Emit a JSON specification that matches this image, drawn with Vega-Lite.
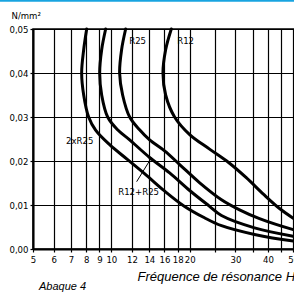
{
  "$schema": "https://vega.github.io/schema/vega-lite/v6.json",
  "width": 271,
  "height": 220,
  "autosize": {"type": "none"},
  "padding": {"left": 33, "top": 29, "right": 0, "bottom": 46},
  "background": "white",
  "config": {
    "view": {"stroke": "black", "strokeWidth": 1.5},
    "font": "Liberation Sans Narrow, DejaVu Sans Condensed, Liberation Sans, sans-serif"
  },
  "datasets": {
    "curves": [
      {"c": "2xR25", "i": 1, "x": 8.04, "y": 0.050},
      {"c": "2xR25", "i": 2, "x": 7.83, "y": 0.0453},
      {"c": "2xR25", "i": 3, "x": 7.69, "y": 0.040},
      {"c": "2xR25", "i": 4, "x": 7.83, "y": 0.035},
      {"c": "2xR25", "i": 5, "x": 8.18, "y": 0.030},
      {"c": "2xR25", "i": 6, "x": 8.70, "y": 0.027},
      {"c": "2xR25", "i": 7, "x": 9.85, "y": 0.0237},
      {"c": "2xR25", "i": 8, "x": 11.55, "y": 0.0203},
      {"c": "2xR25", "i": 9, "x": 13.55, "y": 0.0169},
      {"c": "2xR25", "i": 10, "x": 16.0, "y": 0.0132},
      {"c": "2xR25", "i": 11, "x": 19.0, "y": 0.0098},
      {"c": "2xR25", "i": 12, "x": 22.8, "y": 0.0071},
      {"c": "2xR25", "i": 13, "x": 26.5, "y": 0.0053},
      {"c": "2xR25", "i": 14, "x": 35.5, "y": 0.0033},
      {"c": "2xR25", "i": 15, "x": 50, "y": 0.0018},
      {"c": "2xR25", "i": 16, "x": 54, "y": 0.0016},
      {"c": "R12+R25", "i": 1, "x": 9.51, "y": 0.050},
      {"c": "R12+R25", "i": 2, "x": 9.18, "y": 0.0453},
      {"c": "R12+R25", "i": 3, "x": 9.02, "y": 0.040},
      {"c": "R12+R25", "i": 4, "x": 9.18, "y": 0.035},
      {"c": "R12+R25", "i": 5, "x": 9.68, "y": 0.030},
      {"c": "R12+R25", "i": 6, "x": 10.57, "y": 0.0271},
      {"c": "R12+R25", "i": 7, "x": 11.76, "y": 0.0248},
      {"c": "R12+R25", "i": 8, "x": 14.03, "y": 0.0208},
      {"c": "R12+R25", "i": 9, "x": 16.75, "y": 0.0173},
      {"c": "R12+R25", "i": 10, "x": 20.0, "y": 0.0133},
      {"c": "R12+R25", "i": 11, "x": 23.85, "y": 0.0097},
      {"c": "R12+R25", "i": 12, "x": 26.5, "y": 0.0076},
      {"c": "R12+R25", "i": 13, "x": 35.5, "y": 0.0048},
      {"c": "R12+R25", "i": 14, "x": 50, "y": 0.0029},
      {"c": "R12+R25", "i": 15, "x": 54, "y": 0.0026},
      {"c": "R25", "i": 1, "x": 11.35, "y": 0.050},
      {"c": "R25", "i": 2, "x": 10.95, "y": 0.0453},
      {"c": "R25", "i": 3, "x": 10.76, "y": 0.040},
      {"c": "R25", "i": 4, "x": 11.05, "y": 0.035},
      {"c": "R25", "i": 5, "x": 11.76, "y": 0.030},
      {"c": "R25", "i": 6, "x": 12.84, "y": 0.0271},
      {"c": "R25", "i": 7, "x": 14.03, "y": 0.0248},
      {"c": "R25", "i": 8, "x": 16.02, "y": 0.0223},
      {"c": "R25", "i": 9, "x": 18.3, "y": 0.0192},
      {"c": "R25", "i": 10, "x": 21.8, "y": 0.0151},
      {"c": "R25", "i": 11, "x": 26.5, "y": 0.0112},
      {"c": "R25", "i": 12, "x": 31.1, "y": 0.0089},
      {"c": "R25", "i": 13, "x": 37.1, "y": 0.0069},
      {"c": "R25", "i": 14, "x": 50, "y": 0.0044},
      {"c": "R25", "i": 15, "x": 54, "y": 0.0039},
      {"c": "R12", "i": 1, "x": 17.0, "y": 0.050},
      {"c": "R12", "i": 2, "x": 16.17, "y": 0.0453},
      {"c": "R12", "i": 3, "x": 15.79, "y": 0.040},
      {"c": "R12", "i": 4, "x": 16.17, "y": 0.035},
      {"c": "R12", "i": 5, "x": 17.5, "y": 0.030},
      {"c": "R12", "i": 6, "x": 20.0, "y": 0.026},
      {"c": "R12", "i": 7, "x": 23.85, "y": 0.0227},
      {"c": "R12", "i": 8, "x": 28.3, "y": 0.0196},
      {"c": "R12", "i": 9, "x": 33.0, "y": 0.0162},
      {"c": "R12", "i": 10, "x": 38.5, "y": 0.0124},
      {"c": "R12", "i": 11, "x": 44.3, "y": 0.0092},
      {"c": "R12", "i": 12, "x": 50, "y": 0.0070},
      {"c": "R12", "i": 13, "x": 54, "y": 0.0058}
    ],
    "labels": [
      {"t": "2xR25", "x": 7.56, "y": 0.0246},
      {"t": "R25", "x": 12.62, "y": 0.0472},
      {"t": "R12", "x": 19.3, "y": 0.0472},
      {"t": "R12+R25", "x": 12.73, "y": 0.0130}
    ],
    "arrow": [
      {"x": 12.51, "y": 0.0153, "x2": 14.28, "y2": 0.0208}
    ],
    "caption": [
      {"t": "Abaque 4", "x": 5.27, "y": -0.0093}
    ],
    "band": [
      {"x": 3.7, "x2": 60, "y": 0.0566}
    ]
  },
  "layer": [
    {
      "data": {"name": "curves"},
      "mark": {"type": "line", "interpolate": "catmull-rom", "color": "black", "strokeWidth": 3, "strokeCap": "round"},
      "encoding": {
        "x": {
          "field": "x", "type": "quantitative",
          "scale": {"type": "log", "domain": [5, 55], "nice": false, "zero": false},
          "axis": {
            "values": [5, 6, 7, 8, 9, 10, 12, 14, 16, 18, 20, 25, 30, 35, 40, 45, 50],
            "labelExpr": "indexof([25, 35, 45], datum.value) >= 0 ? '' : format(datum.value, 'd')",
            "grid": true, "gridColor": "black", "gridWidth": 1.2, "gridOpacity": 1,
            "domain": true, "domainColor": "black", "domainWidth": 2,
            "ticks": true, "tickSize": 3, "tickColor": "black", "tickWidth": 1.2,
            "labelFontSize": 9.5, "labelColor": "black", "labelPadding": 2, "labelFlush": false, "labelOverlap": false,
            "title": "Fréquence de résonance Hz",
            "titleFontSize": 13, "titleFontStyle": "italic", "titleFontWeight": "normal", "titleColor": "black",
            "titleFont": "Liberation Sans, sans-serif",
            "titleAlign": "left", "titleAnchor": "start", "titleX": 104, "titleY": 31, "titleBaseline": "alphabetic"
          }
        },
        "y": {
          "field": "y", "type": "quantitative",
          "scale": {"domain": [0, 0.05], "nice": false},
          "axis": {
            "values": [0, 0.01, 0.02, 0.03, 0.04, 0.05],
            "labelExpr": "replace(format(datum.value, '.2f'), '.', ',')",
            "grid": true, "gridColor": "black", "gridWidth": 1.2, "gridOpacity": 1,
            "domain": true, "domainColor": "black", "domainWidth": 2,
            "ticks": true, "tickSize": 3, "tickColor": "black", "tickWidth": 1.2,
            "labelFontSize": 9.5, "labelColor": "black", "labelPadding": 2,
            "title": "N/mm²", "titleAngle": 0, "titleFontSize": 9.5, "titleFontWeight": "normal", "titleColor": "black",
            "titleAlign": "left", "titleBaseline": "alphabetic", "titleX": -22, "titleY": -11
          }
        },
        "detail": {"field": "c"},
        "order": {"field": "i", "type": "quantitative"}
      }
    },
    {
      "data": {"name": "arrow"},
      "mark": {"type": "rule", "color": "black", "strokeWidth": 1},
      "encoding": {
        "x": {"field": "x", "type": "quantitative"},
        "y": {"field": "y", "type": "quantitative"},
        "x2": {"field": "x2"},
        "y2": {"field": "y2"}
      }
    },
    {
      "data": {"name": "labels"},
      "mark": {"type": "text", "fontSize": 9.5, "color": "black", "align": "center", "baseline": "middle"},
      "encoding": {
        "x": {"field": "x", "type": "quantitative"},
        "y": {"field": "y", "type": "quantitative"},
        "text": {"field": "t"}
      }
    },
    {
      "data": {"name": "caption"},
      "mark": {"type": "text", "fontSize": 11, "fontStyle": "italic", "color": "black", "align": "left", "baseline": "alphabetic", "font": "Liberation Sans, sans-serif"},
      "encoding": {
        "x": {"field": "x", "type": "quantitative"},
        "y": {"field": "y", "type": "quantitative"},
        "text": {"field": "t"}
      }
    },
    {
      "data": {"name": "band"},
      "mark": {"type": "rule", "color": "#18a4e0", "strokeWidth": 3.5},
      "encoding": {
        "x": {"field": "x", "type": "quantitative"},
        "x2": {"field": "x2"},
        "y": {"field": "y", "type": "quantitative"}
      }
    }
  ]
}
